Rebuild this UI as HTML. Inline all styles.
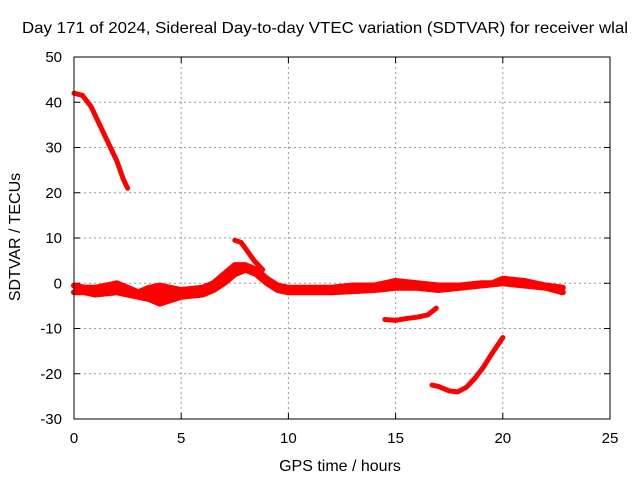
<!DOCTYPE html>
<html><head><meta charset="utf-8"><style>
body{margin:0;background:#fff;}
svg text{font-family:"Liberation Sans",sans-serif;fill:#000;}
</style></head><body>
<svg id="chart" width="640" height="480" xmlns="http://www.w3.org/2000/svg">
<text x="325" y="33" font-size="16" text-anchor="middle" textLength="606" lengthAdjust="spacingAndGlyphs">Day 171 of 2024, Sidereal Day-to-day VTEC variation (SDTVAR) for receiver wlal</text>
<text x="340" y="471" font-size="16" text-anchor="middle">GPS time / hours</text>
<text x="20" y="237" font-size="16" text-anchor="middle" transform="rotate(-90 20 237)">SDTVAR / TECUs</text>
<g id="grid"></g>
<g id="ticks"></g>
<g id="series"></g>
<rect x="74" y="57" width="536" height="362" fill="none" stroke="#000" stroke-width="1"/>
</svg>
<script>
const xTicks=[0,5,10,15,20,25];
const yTicks=[-30,-20,-10,0,10,20,30,40,50];
const seriesA=[[0,42],[0.4,41.5],[0.8,39],[1.2,35],[1.7,30],[2.0,27],[2.3,23],[2.5,21]];
const bandUpper=[[0,-0.5],[0.5,-1],[1,-1],[1.5,-0.5],[2,0],[2.5,-1],[3,-2],[3.5,-1],[4,-0.5],[5,-1.5],[6,-1],[6.5,0],[7,2],[7.5,4],[8,4],[8.5,3],[9,1],[9.5,-0.5],[10,-1],[11,-1],[12,-1],[13,-0.5],[14,-0.5],[15,0.5],[16,0],[17,-0.5],[18,-0.5],[19,0],[19.5,0],[20,1],[21,0.5],[22,-0.5],[22.8,-1]];
const bandLower=[[0,-2],[0.5,-2],[1,-2.5],[2,-2],[3,-3],[3.5,-3.5],[4,-4.5],[5,-3],[6,-2.5],[6.5,-1.5],[7,0],[7.5,2],[8,3],[8.5,2],[9,0],[9.5,-1.5],[10,-2],[12,-2],[14,-1.5],[15,-1],[16,-1],[17,-1.5],[18,-1],[19,-0.5],[20,0],[21,-0.5],[22,-1],[22.8,-2]];
const peakBranch=[[7.5,9.5],[7.8,9],[8.1,7],[8.4,5],[8.8,3]];
const seriesC=[[14.5,-8],[15,-8.2],[15.5,-7.8],[16,-7.5],[16.5,-7],[16.9,-5.5]];
const seriesD=[[16.7,-22.5],[17,-22.8],[17.5,-23.8],[17.9,-24],[18.3,-23],[18.7,-21],[19.1,-18.5],[19.5,-15.5],[20,-12]];
const X=v=>74+v*536/25, Y=v=>419-(v+30)*362/80;
const NS="http://www.w3.org/2000/svg";
const grid=document.getElementById('grid'),ticks=document.getElementById('ticks'),ser=document.getElementById('series');
function mk(t,a,p){const e=document.createElementNS(NS,t);for(const k in a)e.setAttribute(k,a[k]);p.appendChild(e);return e;}
xTicks.forEach(t=>{
 if(t>0&&t<25){const l=mk('line',{x1:X(t),x2:X(t),y1:57,y2:419,stroke:'#999','stroke-dasharray':'2,3'},grid);
 
 }
 mk('line',{x1:X(t),x2:X(t),y1:419,y2:413,stroke:'#000'},ticks);
 mk('line',{x1:X(t),x2:X(t),y1:57,y2:63,stroke:'#000'},ticks);
 const tx=mk('text',{x:X(t),y:443,'font-size':15,'text-anchor':'middle'},ticks);tx.textContent=t;
 
 
});
yTicks.forEach(t=>{
 if(t>-30&&t<50){const l=mk('line',{x1:74,x2:610,y1:Y(t),y2:Y(t),stroke:'#999','stroke-dasharray':'2,3'},grid);
 
 }
 mk('line',{x1:74,x2:80,y1:Y(t),y2:Y(t),stroke:'#000'},ticks);
 mk('line',{x1:610,x2:604,y1:Y(t),y2:Y(t),stroke:'#000'},ticks);
 const tx=mk('text',{x:62,y:Y(t)+5,'font-size':15,'text-anchor':'end'},ticks);tx.textContent=t;
 
 
});
function draw(d,name,w){
 const p=mk('polyline',{points:d.map(q=>X(q[0])+','+Y(q[1])).join(' '),fill:'none',stroke:'#f00','stroke-width':w,'stroke-linejoin':'round','stroke-linecap':'round'},ser);
 
 
}
draw(seriesA,'series-a-line',5);
draw(bandUpper,'band-upper-line',6);
draw(bandLower,'band-lower-line',6);
draw(peakBranch,'peak-branch-line',5);
draw(seriesC,'series-c-line',5);
draw(seriesD,'series-d-line',5);
const bandPts=bandUpper.map(q=>X(q[0])+','+Y(q[1])).concat(bandLower.slice().reverse().map(q=>X(q[0])+','+Y(q[1]))).join(' ');
const bf=mk('polygon',{points:bandPts,fill:'#f00'},ser);


</script>
</body></html>
